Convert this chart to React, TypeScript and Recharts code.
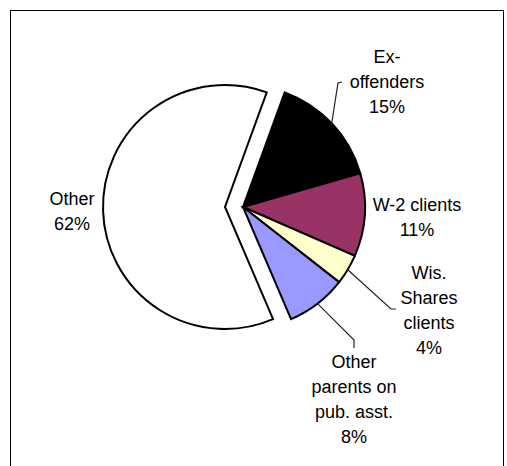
import { PieChart, Pie, Cell } from "recharts"

const categories = [
  "Ex-offenders",
  "W-2 clients",
  "Wis. Shares clients",
  "Other parents on pub. asst.",
  "Other",
]
const shares = [15, 11, 4, 8, 62]
const labelNames = [
  ["Ex-", "offenders"],
  ["W-2 clients"],
  ["Wis.", "Shares", "clients"],
  ["Other", "parents on", "pub. asst."],
  ["Other"],
]
const sliceColors = ["#000000", "#993366", "#FFFFCC", "#9999FF", "#FFFFFF"]
const exploded = "Other"

const data = categories.map((name, i) => ({ name, value: shares[i] }))

// label placement relative to the main pie centre, plus leader line bends
const LABEL_LAYOUT: Record<string, { dx: number; dy: number; leader?: number[][] }> = {
  "Ex-offenders": { dx: 144, dy: -150, leader: [[95, -124], [99, -125]] },
  "W-2 clients": { dx: 174, dy: -2 },
  "Wis. Shares clients": { dx: 186, dy: 66, leader: [[148, 102], [153, 102]] },
  "Other parents on pub. asst.": { dx: 111, dy: 155, leader: [[111, 133], [111, 141]] },
  Other: { dx: -171, dy: -8 },
}

const RADIAN = Math.PI / 180
const LINE_H = 25

function PieLabel(props: any) {
  const { cx, cy, midAngle, outerRadius, index } = props
  const name = categories[index]
  const layout = LABEL_LAYOUT[name]
  const lines = [...labelNames[index], `${shares[index]}%`]
  const sx = cx + outerRadius * Math.cos(-midAngle * RADIAN)
  const sy = cy + outerRadius * Math.sin(-midAngle * RADIAN)
  const pts = layout.leader
    ? [[sx, sy], ...layout.leader.map(([x, y]) => [cx + x, cy + y])]
    : null
  return (
    <g>
      {pts && (
        <path
          d={"M" + pts.map((p) => p.join(",")).join("L")}
          fill="none"
          stroke="#222"
          strokeWidth={1.2}
        />
      )}
      <text
        textAnchor="middle"
        fontFamily="'Liberation Sans', Arial, sans-serif"
        fontSize={18}
        fill="#000"
      >
        {lines.map((line, i) => (
          <tspan
            key={i}
            x={cx + layout.dx}
            y={cy + layout.dy + i * LINE_H}
            dominantBaseline="central"
          >
            {line}
          </tspan>
        ))}
      </text>
    </g>
  )
}

export default function App() {
  return (
    <div
      style={{
        position: "fixed",
        left: 0,
        top: 0,
        width: 507,
        height: 466,
        overflow: "hidden",
        background: "#fff",
      }}
    >
      <div
        style={{
          position: "absolute",
          left: 10,
          top: 10,
          width: 494,
          height: 480,
          border: "1px solid #000",
          boxSizing: "border-box",
        }}
      />
      <div style={{ position: "absolute", left: 0, top: 0 }}>
        <PieChart width={507} height={466} margin={{ top: 0, right: 0, bottom: 0, left: 0 }}>
          {/* exploded "Other" slice */}
          <Pie
            data={data}
            dataKey="value"
            nameKey="name"
            cx={225}
            cy={207}
            outerRadius={122}
            startAngle={70}
            endAngle={-290}
            stroke="#000"
            strokeWidth={2}
            label={false}
            labelLine={false}
            isAnimationActive={false}
          >
            {data.map((d, i) =>
              d.name === exploded ? (
                <Cell key={i} fill={sliceColors[i]} />
              ) : (
                <Cell key={i} fill="none" stroke="none" />
              )
            )}
          </Pie>
          {/* remaining slices */}
          <Pie
            data={data}
            dataKey="value"
            nameKey="name"
            cx={243}
            cy={207}
            outerRadius={122}
            startAngle={70}
            endAngle={-290}
            stroke="#000"
            strokeWidth={2}
            label={false}
            labelLine={false}
            isAnimationActive={false}
          >
            {data.map((d, i) =>
              d.name === exploded ? (
                <Cell key={i} fill="none" stroke="none" />
              ) : (
                <Cell key={i} fill={sliceColors[i]} />
              )
            )}
          </Pie>
          {/* labels on top of everything */}
          <Pie
            data={data}
            dataKey="value"
            nameKey="name"
            cx={243}
            cy={207}
            outerRadius={121}
            startAngle={70}
            endAngle={-290}
            fill="none"
            stroke="none"
            label={PieLabel}
            labelLine={false}
            isAnimationActive={false}
          >
            {data.map((d, i) => (
              <Cell key={i} fill="none" stroke="none" />
            ))}
          </Pie>
        </PieChart>
      </div>
    </div>
  )
}
